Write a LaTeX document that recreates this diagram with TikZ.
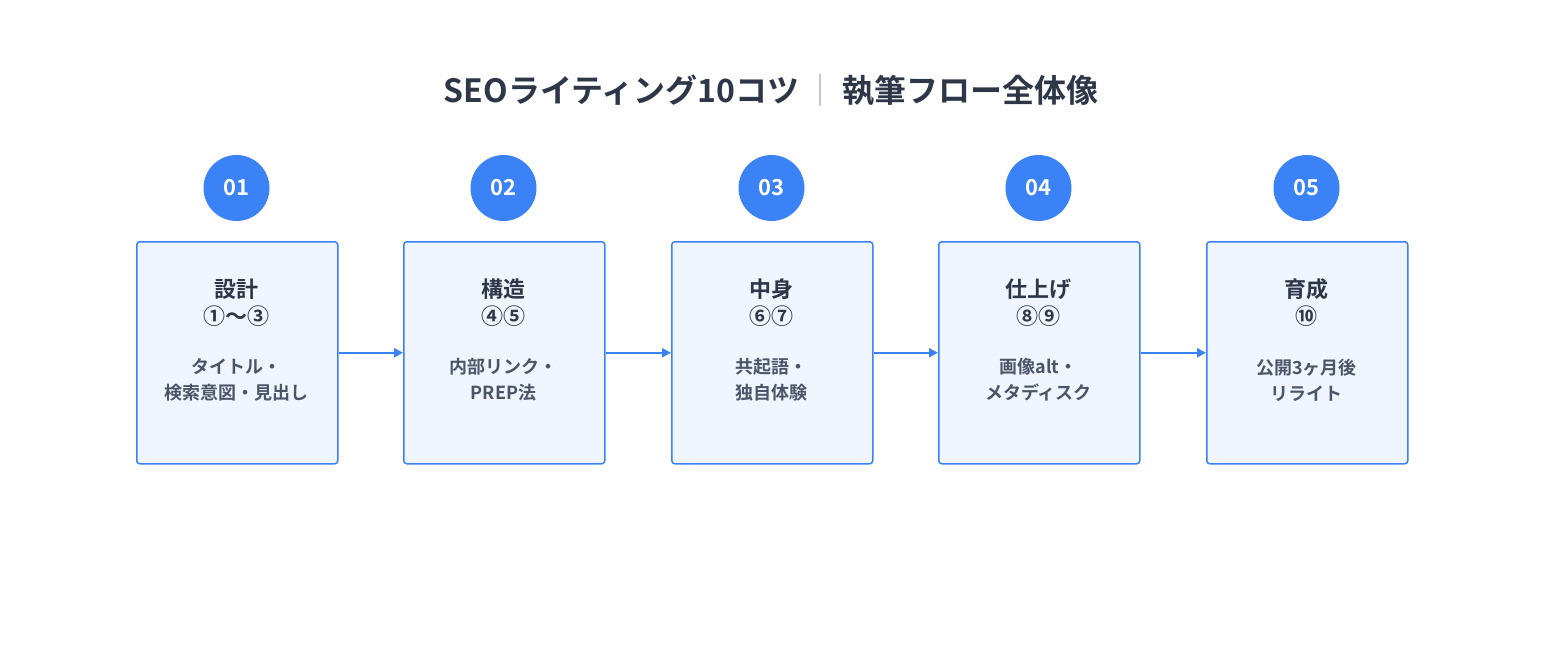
\documentclass[tikz,border=0pt]{standalone}
\usepackage{fontspec}
\setmainfont{Noto Sans CJK JP}[BoldFont={* Bold}]
\newfontfamily\cjkbold{Noto Sans CJK JP Bold}
\usetikzlibrary{arrows.meta}
\definecolor{blu}{HTML}{3B82F6}
\definecolor{lfill}{HTML}{EFF6FF}
\definecolor{dark}{HTML}{2D3748}
\definecolor{sub}{HTML}{4A5568}
\definecolor{sep}{HTML}{A0AEC0}
\tikzset{
 stepbox/.style={draw=blu,fill=lfill,line width=1.5pt,rounded corners=3pt,minimum width=201pt,minimum height=222pt,anchor=north west,inner sep=0pt},
 badge/.style={circle,fill=blu,minimum size=66pt,inner sep=0pt,text=white,font=\cjkbold\fontsize{22}{24}\selectfont},
 btitle/.style={text=dark,font=\cjkbold\fontsize{22}{27}\selectfont,align=center},
 bsub/.style={text=sub,font=\cjkbold\fontsize{18}{26}\selectfont,align=center},
 conn/.style={draw=blu,line width=2.5pt,-{Triangle[length=9pt,width=9pt]}}
}
\begin{document}
\begin{tikzpicture}[x=1pt,y=-1pt]
\useasboundingbox (0,0) rectangle (1543,667);
\node[text=dark,font=\cjkbold\fontsize{32}{36}\selectfont] (title) at (771,90) {SEOライティング10コツ\,{\color{sep}\normalfont｜}\,執筆フロー全体像};
\foreach \i/\x/\n/\t/\c/\s in {
 1/136/01/設計/①〜③/タイトル・\\検索意図・見出し,
 2/403/02/構造/④⑤/内部リンク・\\PREP法,
 3/671/03/中身/⑥⑦/共起語・\\独自体験,
 4/938/04/仕上げ/⑧⑨/画像alt・\\メタディスク,
 5/1206/05/育成/⑩/公開3ヶ月後\\リライト}{
 \node[stepbox] (b\i) at (\x,241) {};
 \node[badge] (c\i) at (\x+100.5,188) {\n};
 \node[btitle] (t\i) at (\x+100.5,303) {\t\\\c};
 \node[bsub] (s\i) at (\x+100.5,380) {\s};
}
\foreach \a/\b in {1/2,2/3,3/4,4/5}{
 \draw[conn] (b\a.east) -- (b\b.west);
}
\end{tikzpicture}
\end{document}
